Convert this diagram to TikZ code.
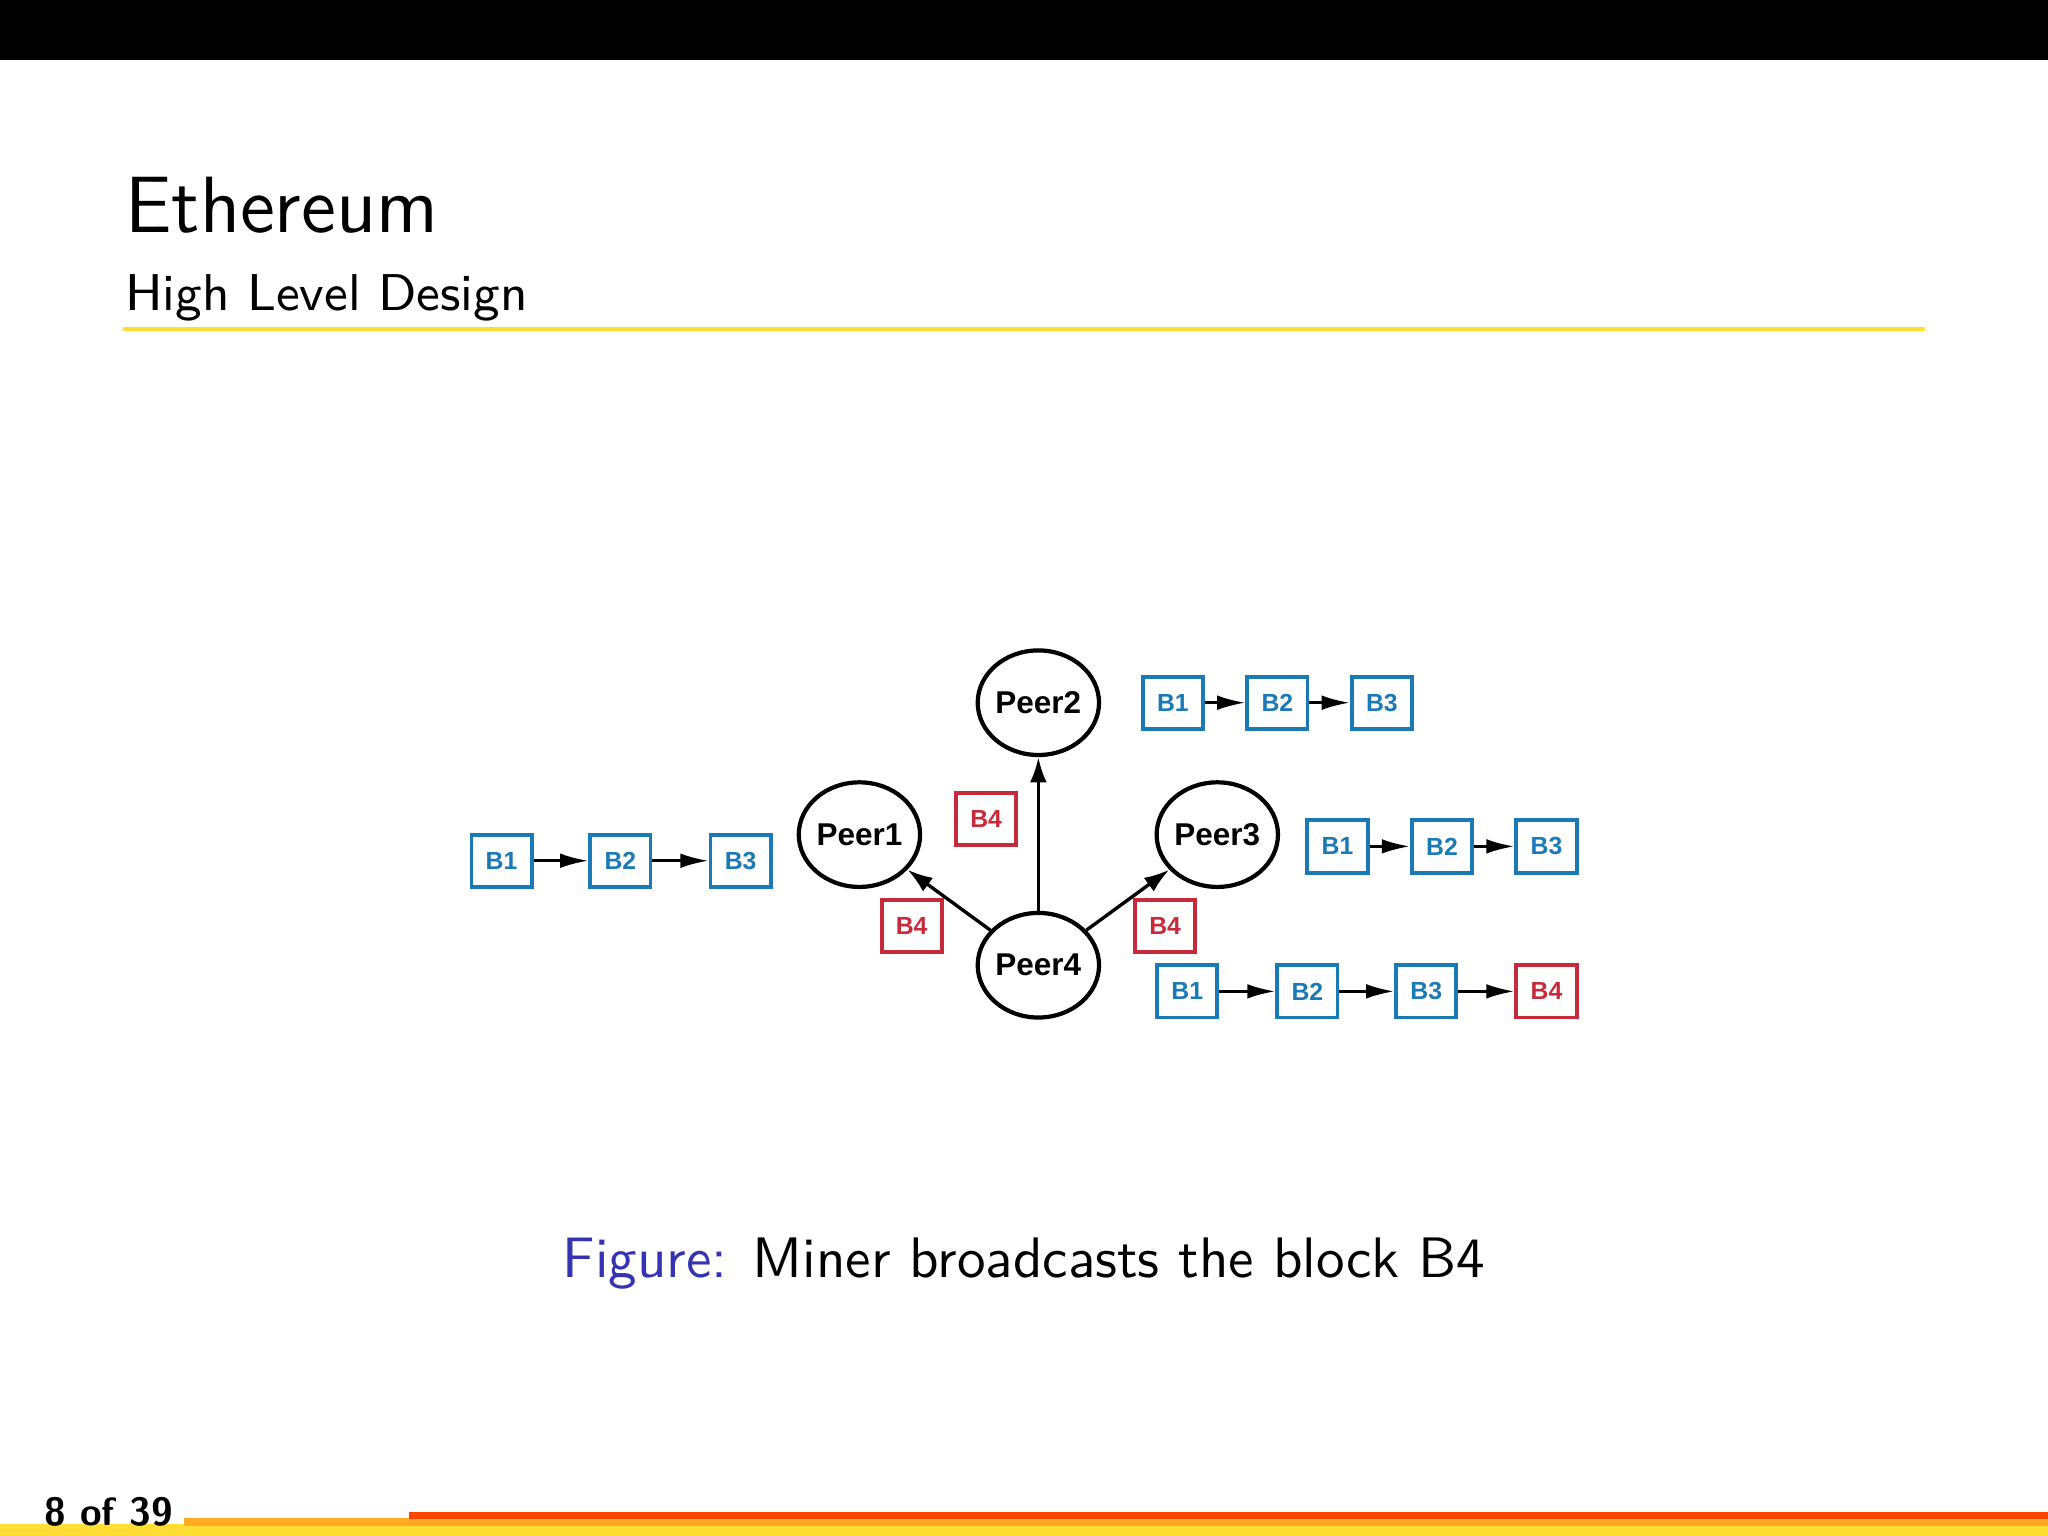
\documentclass[tikz,border=0pt]{standalone}
\usepackage{fontspec}
\newfontfamily\arial{Liberation Sans}
\usetikzlibrary{shapes.geometric,arrows.meta}
\definecolor{byel}{HTML}{FFDD33}
\definecolor{bora}{HTML}{FFAA22}
\definecolor{bred}{HTML}{FF4400}
\definecolor{blk}{HTML}{1A7AB5}
\definecolor{rblk}{HTML}{C72A3A}
\definecolor{figblue}{HTML}{3333B3}
\begin{document}
\begin{tikzpicture}[x=0.08163mm,y=-0.08163mm,
  peer/.style={ellipse,draw,line width=0.75pt,minimum width=21.4pt,minimum height=18.6pt,inner sep=0,font=\arial\bfseries\fontsize{5.6}{6}\selectfont},
  blk/.style={draw=blk,text=blk,line width=0.7pt,minimum width=10.7pt,minimum height=9.3pt,inner sep=0,font=\arial\bfseries\fontsize{4.4}{5}\selectfont},
  rblk/.style={blk,draw=rblk,text=rblk},
  arr/.style={-{Latex[length=4.5pt,width=3pt]},line width=0.6pt},
  sarr/.style={-{Latex[length=5pt,width=2.6pt]},line width=0.5pt}]
\useasboundingbox (0,0) rectangle (1568,1176);
\fill[black] (0,0) rectangle (1568,46);
\node[anchor=base west,inner sep=0,font=\sffamily\fontsize{14.2}{16}\selectfont] (t) at (95,178) {Ethereum};
\node[anchor=base west,inner sep=0,font=\sffamily\fontsize{9.2}{11}\selectfont] (st) at (95,238) {High Level Design};
\fill[byel] (94,250.5) rectangle (1474,253.5);
% peers
\node[peer] (p2) at (795,538) {Peer2};
\node[peer] (p1) at (658,639) {Peer1};
\node[peer] (p3) at (932,639) {Peer3};
\node[peer] (p4) at (795,739) {Peer4};
\draw[arr] (p4) -- (p1);
\draw[arr] (p4) -- (p2);
\draw[arr] (p4) -- (p3);
\node[rblk] (r1) at (755,627) {B4};
\node[rblk] (r2) at (698,709) {B4};
\node[rblk] (r3) at (892,709) {B4};
% left chain
\node[blk] (l1) at (384,659) {B1};
\node[blk] (l2) at (475,659) {B2};
\node[blk] (l3) at (567,659) {B3};
\draw[sarr] (l1) -- (l2); \draw[sarr] (l2) -- (l3);
% top chain
\node[blk] (t1) at (898,538) {B1};
\node[blk] (t2) at (978,538) {B2};
\node[blk] (t3) at (1058,538) {B3};
\draw[sarr] (t1) -- (t2); \draw[sarr] (t2) -- (t3);
% middle chain
\node[blk] (m1) at (1024,648) {B1};
\node[blk] (m2) at (1104,648) {B2};
\node[blk] (m3) at (1184,648) {B3};
\draw[sarr] (m1) -- (m2); \draw[sarr] (m2) -- (m3);
% bottom chain
\node[blk] (b1) at (909,759) {B1};
\node[blk] (b2) at (1001,759) {B2};
\node[blk] (b3) at (1092,759) {B3};
\node[rblk] (b4) at (1184,759) {B4};
\draw[sarr] (b1) -- (b2); \draw[sarr] (b2) -- (b3); \draw[sarr] (b3) -- (b4);
% caption
\node[anchor=base,inner sep=0,font=\sffamily\fontsize{10.15}{12}\selectfont] (cap) at (784,978) {\textcolor{figblue}{Figure:} Miner broadcasts the block B4};
% footer
\fill[byel] (0,1167) rectangle (1568,1176);
\fill[bora] (141,1162) rectangle (1568,1168);
\fill[bred] (313,1157.5) rectangle (1568,1163);
\node[anchor=base west,inner sep=0,font=\sffamily\bfseries\fontsize{7}{9}\selectfont] (pg) at (33,1168) {8 of 39};
\end{tikzpicture}
\end{document}
